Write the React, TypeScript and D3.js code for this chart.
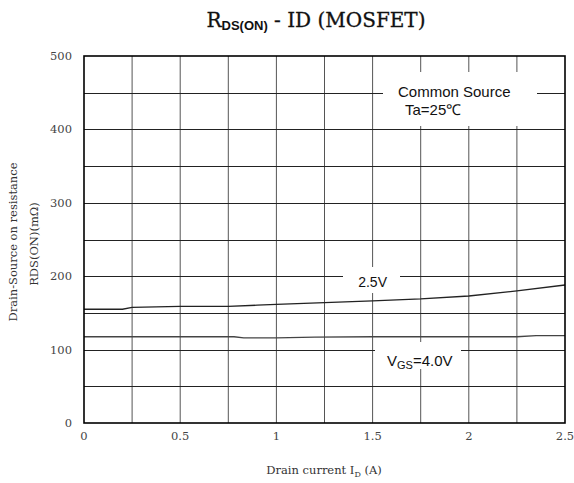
import * as d3 from "d3";
import { useMemo } from "react";

// Drain current (A) and on-resistance (mΩ)
const currentVgs25 = [0, 0.2, 0.25, 0.5, 0.75, 0.9, 1.0, 1.25, 1.5, 1.75, 2.0, 2.25, 2.5];
const rdsVgs25 = [155, 155, 157.5, 159, 159, 160.5, 161.5, 164, 166.5, 169, 173, 180, 188];

const currentVgs40 = [0, 0.5, 0.78, 0.83, 1.0, 1.2, 1.5, 2.0, 2.25, 2.35, 2.5];
const rdsVgs40 = [117.5, 117.5, 117.5, 116, 116, 117, 117.5, 117.5, 117.5, 119, 119];

const xTicks = [0, 0.5, 1, 1.5, 2, 2.5];
const xTickLabels = ["0", "0.5", "1", "1.5", "2", "2.5"];
const yTicks = [0, 100, 200, 300, 400, 500];
const yTickLabels = ["0", "100", "200", "300", "400", "500"];

const WIDTH = 574;
const HEIGHT = 483;
const LEFT = 84;
const RIGHT = 565;
const TOP = 56;
const BOTTOM = 423;

const SERIF = "'DejaVu Serif', serif";
const SANS = "'Liberation Sans', Arial, sans-serif";

export default function App() {
  const x = useMemo(() => d3.scaleLinear().domain([0, 2.5]).range([LEFT, RIGHT]), []);
  const y = useMemo(() => d3.scaleLinear().domain([0, 500]).range([BOTTOM, TOP]), []);

  const line = d3
    .line<[number, number]>()
    .x((d) => x(d[0]))
    .y((d) => y(d[1]));

  const path25 = line(currentVgs25.map((c, i) => [c, rdsVgs25[i]]));
  const path40 = line(currentVgs40.map((c, i) => [c, rdsVgs40[i]]));

  const xGrid = d3.range(0.25, 2.5, 0.25);
  const yGrid = d3.range(50, 500, 50);

  return (
    <svg
      width={WIDTH}
      height={HEIGHT}
      style={{ position: "absolute", left: 0, top: 0, background: "#fff" }}
    >
      {/* title */}
      <text
        x={316}
        y={27}
        textAnchor="middle"
        fontFamily={SERIF}
        fontSize={20}
        fill="#111"
        stroke="#111"
        strokeWidth={0.3}
      >
        R
        <tspan fontFamily={SANS} fontWeight="bold" fontSize={13} dy={3} strokeWidth={0}>
          DS(ON)
        </tspan>
        <tspan dy={-3}> - ID (MOSFET)</tspan>
      </text>

      {/* grid */}
      <g stroke="#222" strokeWidth={1}>
        {xGrid.map((v) => (
          <line key={"gx" + v} x1={x(v)} x2={x(v)} y1={TOP} y2={BOTTOM} stroke="#555" />
        ))}
        {yGrid.map((v) => (
          <line key={"gy" + v} x1={LEFT} x2={RIGHT} y1={Math.round(y(v)) + 0.5} y2={Math.round(y(v)) + 0.5} />
        ))}
      </g>

      {/* curves */}
      <path d={path25 ?? ""} fill="none" stroke="#222" strokeWidth={1.3} />
      <path d={path40 ?? ""} fill="none" stroke="#444" strokeWidth={1.3} />

      {/* annotation boxes */}
      <rect x={383} y={72} width={154} height={54} fill="#fff" />
      <text x={398} y={97} fontFamily={SANS} fontSize={15} fill="#111">
        Common Source
      </text>
      <text x={405} y={115} fontFamily={SANS} fontSize={15} fill="#111">
        Ta=25℃
      </text>

      <rect x={343} y={267} width={57} height={26} fill="#fff" />
      <text x={x(1.5)} y={287} textAnchor="middle" fontFamily={SANS} fontSize={14} fill="#111">
        2.5V
      </text>

      <rect x={375} y={342} width={86} height={27} fill="#fff" />
      <text x={387} y={366} fontFamily={SANS} fontSize={15} fill="#111">
        V<tspan fontSize={11} dy={3}>GS</tspan>
        <tspan dy={-3}>=4.0V</tspan>
      </text>

      {/* frame */}
      <rect x={LEFT} y={TOP} width={RIGHT - LEFT} height={BOTTOM - TOP} fill="none" stroke="#000" strokeWidth={1.6} />

      {/* tick labels */}
      <g fontFamily={SERIF} fontSize={11.5} fill="#444">
        {yTicks.map((v, i) => (
          <text key={"yt" + v} x={72} y={y(v) + 4} textAnchor="end">
            {yTickLabels[i]}
          </text>
        ))}
        {xTicks.map((v, i) => (
          <text key={"xt" + v} x={x(v)} y={440} textAnchor="middle">
            {xTickLabels[i]}
          </text>
        ))}
      </g>

      {/* axis titles */}
      <text x={324} y={474} textAnchor="middle" fontFamily={SERIF} fontSize={11.5} fill="#333">
        Drain current I<tspan fontSize={8} dy={3}>D</tspan>
        <tspan dy={-3}> (A)</tspan>
      </text>
      <g fontFamily={SERIF} fontSize={11.5} fill="#333">
        <text transform="translate(17,242) rotate(-90)" textAnchor="middle">
          Drain-Source on resistance
        </text>
        <text transform="translate(38,244) rotate(-90)" textAnchor="middle">
          RDS(ON)(mΩ)
        </text>
      </g>
    </svg>
  );
}
